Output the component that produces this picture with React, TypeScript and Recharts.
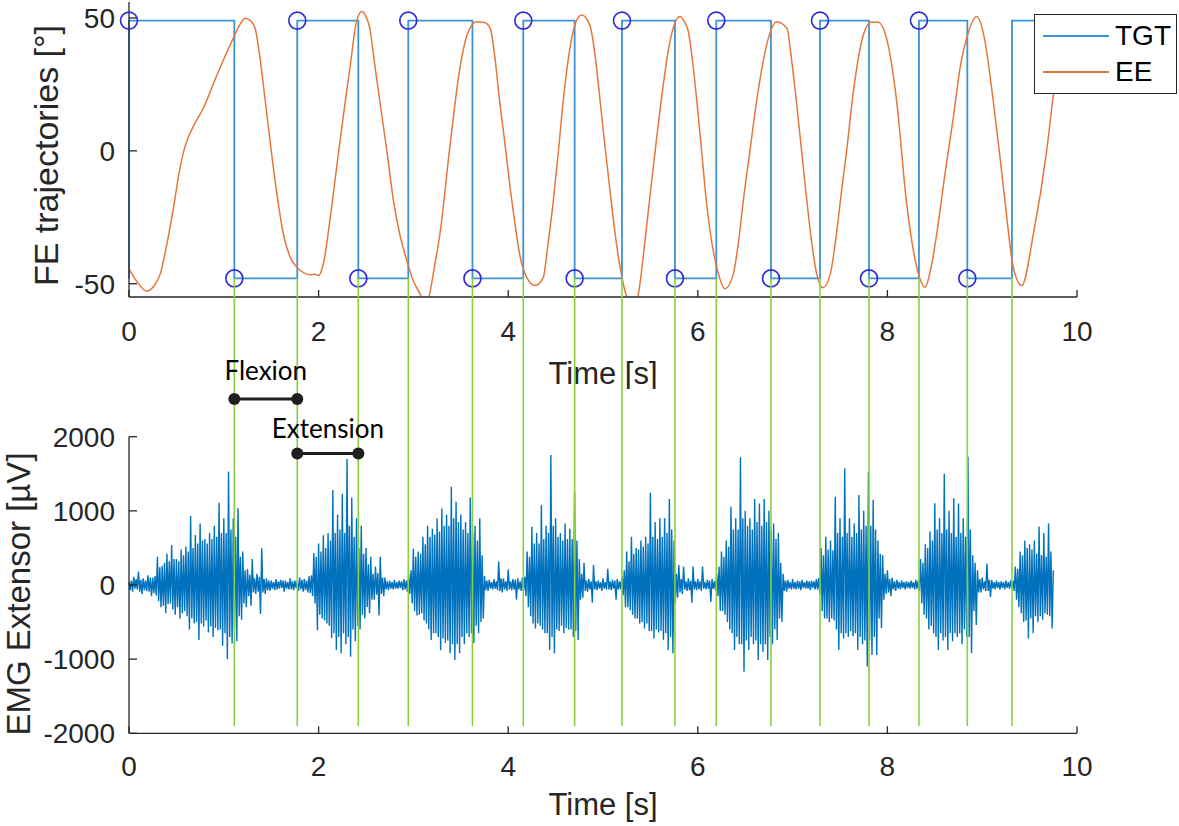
import {
  ComposedChart,
  Label,
  Legend,
  Line,
  ReferenceDot,
  ReferenceLine,
  Scatter,
  XAxis,
  YAxis,
} from "recharts";

const AXIS_FONT = "'Liberation Sans', Arial, Helvetica, sans-serif";
const NOTE_FONT = "Lato, 'Open Sans', sans-serif";
const INK = "#262626";
const TGT_COLOR = "#3d93d6";
const EE_COLOR = "#e5773d";
const EMG_COLOR = "#0072bd";
const RING_COLOR = "#2b2bd9";
const MARK_COLOR = "#88d040";

const TIME_TICKS = [0, 2, 4, 6, 8, 10];
const FE_TICKS = [-50, 0, 50];
const EMG_TICKS = [-2000, -1000, 0, 1000, 2000];
const LEGEND_ORDER = ["TGT", "EE"];

// instants (s) where the target flips; TGT starts low, first flip goes high
const SWITCH_T = [
  0, 1.111, 1.775, 2.419, 2.946, 3.623, 4.159, 4.701, 5.2, 5.759, 6.195,
  6.772, 7.289, 7.806, 8.333, 8.843, 9.314,
];
const TGT_HIGH = 49;
const TGT_LOW = -48;
const TGT_END = 9.8;

// end-effector angle
const EE_T = [
  0, 0.08, 0.19, 0.27, 0.33, 0.4, 0.47, 0.53, 0.59, 0.63, 0.68, 0.785, 0.93, 1.1,
  1.17, 1.224, 1.28, 1.33, 1.37, 1.417, 1.47, 1.523, 1.58, 1.628, 1.7, 1.77,
  1.85, 1.91, 1.96, 2.0, 2.05, 2.12, 2.19, 2.26, 2.33, 2.4, 2.455, 2.5, 2.54,
  2.59, 2.646, 2.72, 2.79, 2.86, 2.93, 3.0, 3.07, 3.12, 3.17, 3.22, 3.28,
  3.38, 3.49, 3.57, 3.667, 3.75, 3.81, 3.86, 3.91, 3.965, 4.02, 4.07, 4.12,
  4.195, 4.283, 4.37, 4.42, 4.476, 4.53, 4.58, 4.67, 4.72, 4.775, 4.86, 4.92,
  4.97, 5.02, 5.07, 5.12, 5.18, 5.25, 5.29, 5.34, 5.373, 5.43, 5.49, 5.56,
  5.636, 5.69, 5.74, 5.81, 5.86, 5.9, 5.95, 5.99, 6.04, 6.09, 6.15, 6.2,
  6.287, 6.375, 6.43, 6.48, 6.55, 6.62, 6.745, 6.83, 6.94, 6.99, 7.04, 7.095,
  7.15, 7.2, 7.254, 7.32, 7.4, 7.46, 7.52, 7.57, 7.64, 7.746, 7.83, 7.904, 8.0,
  8.098, 8.2, 8.31, 8.397, 8.46, 8.52, 8.61, 8.695, 8.77, 8.836, 8.942, 9.02,
  9.117, 9.18, 9.24, 9.328, 9.417, 9.54, 9.68, 9.75, 9.82,
];
const EE_DEG = [
  -44.4, -49, -52.8, -50.5, -46.3, -35, -21.3, -8, 1.5, 5.5, 9.3, 16.1, 28.7, 42.4,
  47.5, 49.9, 49, 46.1, 38, 24.9, 9, -6.4, -21, -31.3, -40, -43.8, -46, -46.6,
  -46.4, -46.9, -42.6, -26, -6.3, 13, 31.1, 48.6, 52.4, 50.5, 46.1, 33, 18.6,
  0, -18.8, -32, -41.3, -49, -53.8, -57.5, -54, -44, -31.3, 0, 31, 44, 48.6,
  48.3, 46.1, 35, 18.6, 3, -13.8, -27, -38.8, -47.6, -50.7, -47.6, -35, -18.8,
  0, 18.6, 42.4, 49, 51.1, 47.4, 35, 18.6, 2, -13.8, -29, -43.8, -55, -58, -57,
  -53.8, -38, -18.8, 3, 24.9, 38, 46.1, 50.5, 48.5, 44.9, 32, 18.6, 0, -18.8,
  -35, -43.8, -51.9, -46.3, -34, -18.8, 0, 18.6, 42.4, 48.6, 46.1, 34, 18.6, 0,
  -18.8, -34, -46.3, -51.5, -46, -32, -14, 0, 22, 43.6, 48.5, 48.4, 41, 18.6,
  -18.8, -43.8, -51.3, -44, -31.3, -8, 12.4, 32, 42.4, 50.5, 43, 18.6, 0, -18.8,
  -43.8, -50.7, -31.3, 0, 21, 40,
];

// EMG extensor, one value every EMG_DT seconds (40 values per row = 0.5 s)
const EMG_DT = 0.0125;
const EMG_UV = [
  40, -70, 60, -90, 110, -50, 80, -60, 180, -90, 70, -120, 90, -70, 60, -80, 130, -90, 100, -150, 100, -110, 120, -140, 380, -220, 240, -300, 260, -280, 300, -380, 420, -260, 320, -250, 540, -330, 350, -400,
  350, -300, 320, -450, 480, -380, 400, -350, 520, -420, 450, -600, 930, -450, 500, -520, 675, -500, 560, -742, 830, -520, 600, -560, 620, -480, 560, -640, 700, -560, 620, -700, 800, -580, 650, -610, 1110, -600, 700, -820,
  900, -650, 700, -1000, 1530, -700, 750, -790, 900, -600, 650, -760, 1035, -420, 380, -470, 450, -250, 200, -300, 220, -150, 140, -280, 350, -100, 90, -120, 150, -90, 110, -390, 495, -100, 80, -120, 90, -70, 60, -80,
  60, -50, 40, -70, 80, -60, 50, -50, 70, -40, 60, -90, 60, -50, 40, -60, 90, -60, 50, -70, 60, -40, 50, -80, 100, -60, 70, -90, 80, -70, 60, -100, 120, -110, 130, -150, 430, -250, 380, -610,
  560, -400, 450, -450, 670, -480, 500, -520, 700, -550, 600, -715, 1282, -650, 700, -877, 950, -700, 750, -922, 1230, -650, 700, -800, 1700, -700, 800, -967, 1180, -600, 650, -760, 900, -550, 500, -600, 800, -400, 420, -450,
  500, -300, 280, -380, 380, -200, 150, -200, 250, -130, 160, -410, 380, -120, 100, -150, 100, -60, 50, -70, 60, -50, 40, -60, 70, -50, 40, -50, 60, -40, 50, -70, 80, -60, 60, -90, 150, -120, 200, -250,
  490, -350, 380, -410, 450, -400, 420, -380, 650, -480, 550, -520, 800, -600, 650, -740, 760, -650, 680, -650, 900, -700, 720, -880, 1030, -720, 800, -780, 950, -750, 800, -920, 1326, -800, 900, -1012, 1124, -800, 850, -920,
  950, -700, 750, -800, 850, -650, 700, -700, 1180, -650, 700, -782, 800, -550, 600, -650, 900, -500, 400, -450, 120, -70, 60, -80, 70, -50, 40, -60, 80, -50, 50, -70, 315, -80, 90, -100, 90, -60, 50, -80,
  210, -60, 50, -70, 80, -60, 70, -200, 90, -60, 50, -80, 100, -80, 110, -150, 450, -300, 380, -420, 786, -520, 560, -585, 700, -520, 560, -550, 1080, -600, 620, -650, 800, -650, 700, -877, 1754, -700, 800, -922,
  900, -600, 650, -620, 700, -550, 600, -650, 830, -580, 620, -600, 760, -600, 620, -700, 1258, -620, 600, -740, 350, -200, 150, -170, 300, -80, 60, -90, 80, -60, 50, -240, 270, -60, 50, -70, 60, -50, 40, -80,
  90, -50, 40, -60, 220, -60, 50, -70, 70, -50, 60, -200, 80, -60, 50, -60, 120, -140, 200, -300, 450, -300, 320, -340, 650, -400, 420, -450, 500, -450, 480, -520, 600, -500, 520, -585, 650, -520, 560, -620,
  1245, -620, 650, -720, 850, -600, 620, -640, 900, -620, 650, -740, 900, -650, 700, -877, 1160, -700, 750, -922, 600, -250, 150, -170, 270, -100, 80, -120, 250, -60, 50, -80, 90, -70, 60, -240, 250, -60, 50, -70,
  80, -60, 50, -80, 250, -50, 40, -60, 70, -50, 60, -230, 80, -50, 50, -70, 150, -150, 250, -350, 450, -350, 380, -400, 600, -500, 520, -600, 1056, -650, 750, -877, 900, -700, 750, -800, 1722, -800, 900, -1170,
  1000, -750, 800, -877, 900, -700, 750, -800, 1160, -750, 850, -1012, 1100, -800, 800, -900, 1160, -800, 850, -1012, 1000, -700, 750, -800, 830, -600, 620, -742, 700, -450, 300, -500, 150, -80, 60, -90, 70, -50, 40, -60,
  80, -50, 40, -60, 60, -50, 50, -70, 70, -40, 40, -50, 60, -50, 50, -70, 60, -40, 50, -60, 80, -60, 90, -120, 500, -350, 400, -450, 650, -450, 480, -500, 600, -450, 470, -480, 1190, -600, 700, -877,
  900, -650, 650, -720, 1574, -650, 700, -700, 900, -620, 650, -690, 830, -650, 700, -877, 1215, -700, 750, -800, 1000, -750, 800, -1100, 1528, -750, 800, -944, 1150, -700, 750, -944, 600, -450, 420, -580, 400, -200, 150, -120,
  200, -100, 80, -150, 100, -60, 50, -80, 70, -50, 40, -60, 60, -40, 40, -60, 50, -40, 40, -50, 60, -40, 40, -60, 70, -50, 60, -80, 350, -250, 300, -400, 550, -450, 500, -600, 720, -550, 600, -650,
  1102, -700, 750, -877, 900, -650, 700, -750, 1500, -700, 750, -877, 1000, -650, 700, -760, 1170, -650, 650, -700, 1100, -650, 700, -800, 900, -600, 650, -700, 1730, -700, 750, -922, 400, -350, 300, -540, 200, -100, 80, -100,
  100, -60, 50, -80, 290, -80, 70, -160, 70, -50, 40, -60, 60, -40, 40, -60, 50, -40, 40, -60, 60, -40, 40, -50, 60, -50, 60, -80, 250, -200, 220, -300, 450, -380, 400, -500, 600, -480, 500, -720,
  550, -450, 480, -650, 600, -420, 420, -500, 790, -420, 400, -470, 700, -380, 380, -400, 830, -420, 450, -585, 200,
];

// annotation heights, in EMG units (they sit above the EMG box)
const FLEX_UV = 2510;
const EXT_UV = 1775;
const MARK_TOP_UV = 4140;
const MARK_BOTTOM_UV = -1900;

const level = (i: number) => (i % 2 === 0 ? TGT_HIGH : TGT_LOW);

const tgtData = [
  { t: 0, v: TGT_LOW },
  ...SWITCH_T.map((t, i) => ({ t, v: level(i) })),
  { t: TGT_END, v: level(SWITCH_T.length - 1) },
];
const ringData = SWITCH_T.slice(0, -1).map((t, i) => ({ t, v: level(i) }));
const eeData = EE_T.map((t, i) => ({ t, v: EE_DEG[i] }));
const emgData = EMG_UV.map((uv, i) => ({ t: i * EMG_DT, uv }));
const markTimes = SWITCH_T.slice(1);

const tickStyle = { fill: INK, fontSize: 28, fontFamily: AXIS_FONT };

const Ring = (p: any) => (
  <circle cx={p.cx} cy={p.cy} r={8.5} fill="none" stroke={RING_COLOR} strokeWidth={1.6} />
);

function LegendBox(props: any) {
  const items = (props.payload || [])
    .filter((p: any) => LEGEND_ORDER.includes(p.value))
    .sort((a: any, b: any) => LEGEND_ORDER.indexOf(a.value) - LEGEND_ORDER.indexOf(b.value));
  return (
    <div
      style={{
        width: 143,
        height: 80,
        boxSizing: "border-box",
        border: `1.3px solid ${INK}`,
        background: "#fff",
        position: "relative",
        fontFamily: AXIS_FONT,
      }}
    >
      {items.map((it: any, i: number) => (
        <div
          key={it.value}
          style={{
            position: "absolute",
            left: 8,
            top: 5 + i * 36,
            height: 32,
            display: "flex",
            alignItems: "center",
          }}
        >
          <div style={{ width: 66, height: 2, background: it.color }} />
          <span style={{ marginLeft: 6, fontSize: 28, lineHeight: "32px", color: "#000" }}>
            {it.value}
          </span>
        </div>
      ))}
    </div>
  );
}

export default function App() {
  const phases = [
    { from: SWITCH_T[1], to: SWITCH_T[2], y: FLEX_UV, text: "Flexion", gap: 19 },
    { from: SWITCH_T[2], to: SWITCH_T[3], y: EXT_UV, text: "Extension", gap: 15 },
  ];
  return (
    <div style={{ position: "absolute", left: 0, top: 0, width: 1179, height: 826, background: "#fff" }}>
      <div style={{ position: "absolute", left: 0, top: 0 }}>
        <ComposedChart width={1179} height={389} margin={{ top: 2, right: 102, bottom: 0, left: 41 }}>
          <XAxis
            type="number"
            dataKey="t"
            domain={[0, 10]}
            ticks={TIME_TICKS}
            interval={0}
            height={92}
            tickSize={-7}
            tickMargin={31}
            stroke={INK}
            strokeWidth={1.3}
            tick={tickStyle}
          >
            <Label value="Time [s]" position="insideBottom" offset={5.5} fill={INK} fontSize={31} fontFamily={AXIS_FONT} />
          </XAxis>
          <YAxis
            yAxisId="fe"
            type="number"
            domain={[-55, 56]}
            allowDataOverflow
            ticks={FE_TICKS}
            interval={0}
            width={88}
            tickSize={-8}
            tickMargin={22}
            stroke={INK}
            strokeWidth={1.3}
            tick={tickStyle}
          >
            <Label
              value="FE trajectories [°]"
              angle={-90}
              position="insideLeft"
              offset={5}
              dy={6}
              fill={INK}
              fontSize={34}
              fontFamily={AXIS_FONT}
              style={{ textAnchor: "middle" }}
            />
          </YAxis>
          <YAxis yAxisId="ring" hide type="number" domain={[-55, 56]} />
          <Line
            yAxisId="fe"
            name="TGT"
            data={tgtData}
            dataKey="v"
            type="stepAfter"
            stroke={TGT_COLOR}
            strokeWidth={1.8}
            dot={false}
            isAnimationActive={false}
          />
          <Line
            yAxisId="fe"
            name="EE"
            data={eeData}
            dataKey="v"
            type="monotone"
            stroke={EE_COLOR}
            strokeWidth={1.5}
            dot={false}
            isAnimationActive={false}
          />
          <Scatter
            yAxisId="ring"
            data={ringData}
            dataKey="v"
            shape={Ring}
            legendType="none"
            isAnimationActive={false}
          />
          <Legend
            layout="vertical"
            align="center"
            verticalAlign="middle"
            content={<LegendBox />}
            wrapperStyle={{ left: 1034, top: 14, width: 143, height: 80 }}
          />
        </ComposedChart>
      </div>
      <div style={{ position: "absolute", left: 0, top: 260 }}>
        <ComposedChart width={1179} height={566} margin={{ top: 176.7, right: 102, bottom: 0, left: 13 }}>
          <XAxis
            type="number"
            dataKey="t"
            domain={[0, 10]}
            ticks={TIME_TICKS}
            interval={0}
            height={92.7}
            tickSize={-7}
            tickMargin={29.5}
            stroke={INK}
            strokeWidth={1.3}
            tick={tickStyle}
          >
            <Label value="Time [s]" position="insideBottom" offset={11} fill={INK} fontSize={31} fontFamily={AXIS_FONT} />
          </XAxis>
          <YAxis
            type="number"
            domain={[-2000, 2000]}
            ticks={EMG_TICKS}
            interval={0}
            width={116}
            tickSize={-8}
            tickMargin={22}
            stroke={INK}
            strokeWidth={1.3}
            tick={tickStyle}
          >
            <Label
              value="EMG Extensor [µV]"
              angle={-90}
              position="insideLeft"
              offset={5}
              dy={9}
              fill={INK}
              fontSize={33}
              fontFamily={AXIS_FONT}
              style={{ textAnchor: "middle" }}
            />
          </YAxis>
          <Line
            data={emgData}
            dataKey="uv"
            type="linear"
            stroke={EMG_COLOR}
            strokeWidth={1.4}
            dot={false}
            isAnimationActive={false}
          />
          {markTimes.map((t) => (
            <ReferenceLine
              key={t}
              segment={[
                { x: t, y: MARK_BOTTOM_UV },
                { x: t, y: MARK_TOP_UV },
              ]}
              stroke={MARK_COLOR}
              strokeWidth={1.6}
              ifOverflow="visible"
            />
          ))}
          {phases.map((p) => (
            <ReferenceLine
              key={p.text}
              segment={[
                { x: p.from, y: p.y },
                { x: p.to, y: p.y },
              ]}
              stroke="#1f1f1f"
              strokeWidth={3}
              ifOverflow="visible"
              label={{
                value: p.text,
                position: "top",
                offset: p.gap,
                fill: "#000",
                fontSize: 26,
                fontFamily: NOTE_FONT,
              }}
            />
          ))}
          {phases.flatMap((p) =>
            [p.from, p.to].map((t) => (
              <ReferenceDot
                key={`${p.text}-${t}`}
                x={t}
                y={p.y}
                r={6}
                fill="#1f1f1f"
                stroke="none"
                ifOverflow="visible"
              />
            ))
          )}
        </ComposedChart>
      </div>
    </div>
  );
}
